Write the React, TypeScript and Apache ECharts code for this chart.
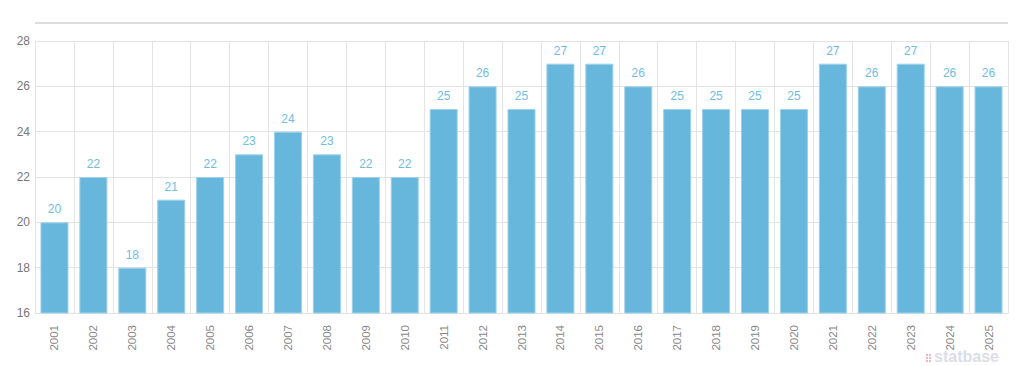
import React, { useEffect, useRef } from "react";
import * as echarts from "echarts";

const years = ["2001","2002","2003","2004","2005","2006","2007","2008","2009","2010","2011","2012","2013","2014","2015","2016","2017","2018","2019","2020","2021","2022","2023","2024","2025"];
const values = [20,22,18,21,22,23,24,23,22,22,25,26,25,27,27,26,25,25,25,25,27,26,27,26,26];

export default function App() {
  const ref = useRef<HTMLDivElement>(null);
  useEffect(() => {
    const chart = echarts.init(ref.current!, null, { renderer: "svg" });
    const font = "Liberation Sans, Arial, Helvetica, sans-serif";
    const sq = (x: number, y: number) => ({ type: "rect", left: x, top: y, shape: { width: 2, height: 2 }, style: { fill: "#f3b3c0" } });
    chart.setOption({
      animation: false,
      grid: { left: 35, right: 16, top: 41, bottom: 53, show: false },
      xAxis: {
        type: "category",
        data: years,
        boundaryGap: true,
        axisLine: { show: true, lineStyle: { color: "#e3e3e3" } },
        axisTick: { show: false },
        splitLine: { show: true, lineStyle: { color: "#e3e3e3" } },
        axisLabel: { rotate: 90, color: "#888", fontSize: 11.5, fontFamily: font, margin: 12, interval: 0 },
      },
      yAxis: {
        type: "value",
        min: 16,
        max: 28,
        interval: 2,
        axisLine: { show: false },
        axisTick: { show: false },
        splitLine: { lineStyle: { color: "#e3e3e3" } },
        axisLabel: { color: "#777", fontSize: 12, fontFamily: font, margin: 5 },
      },
      series: [{
        type: "bar",
        data: values,
        barCategoryGap: "28%",
        itemStyle: { color: "#67b7dc", borderColor: "#9ed0ea", borderWidth: 1 },
        label: { show: true, position: "top", color: "#6fbde3", fontSize: 12, fontFamily: font, distance: 7 },
      }],
      graphic: [
        { type: "rect", left: 35, top: 22, shape: { width: 973, height: 2 }, style: { fill: "#dcdcdc" } },
        sq(926, 354), sq(929, 354), sq(926, 357), sq(929, 357), sq(926, 360), sq(929, 360),
        { type: "text", left: 934, top: 348, style: { text: "statbase", fill: "#dcdde8", font: "bold 16px " + font } },
      ],
    });
    return () => chart.dispose();
  }, []);
  return <div ref={ref} style={{ position: "absolute", left: 0, top: 0, width: 1024, height: 366 }} />;
}
